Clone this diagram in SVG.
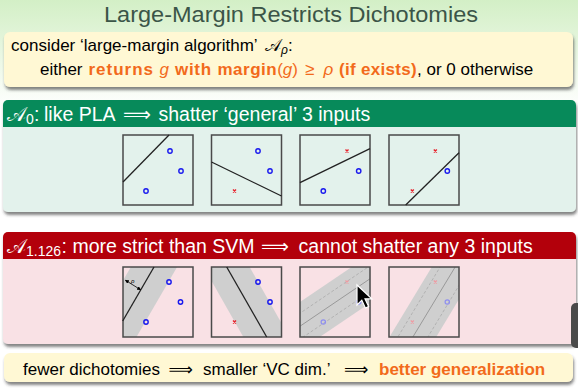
<svg xmlns="http://www.w3.org/2000/svg" width="578" height="389" viewBox="0 0 578 389">
<defs>
<linearGradient id="bg" x1="0" y1="0" x2="0" y2="1">
<stop offset="0" stop-color="#d3efc6"/>
<stop offset="0.28" stop-color="#ffffff"/>
<stop offset="1" stop-color="#ffffff"/>
</linearGradient>
<filter id="sh" x="-5%" y="-20%" width="110%" height="150%">
<feDropShadow dx="1" dy="3" stdDeviation="1.6" flood-color="#333" flood-opacity="0.6"/>
</filter>
<clipPath id="c1"><rect x="123" y="267" width="70" height="70"/></clipPath>
<clipPath id="c2"><rect x="211.5" y="267" width="70" height="70"/></clipPath>
<clipPath id="c3"><rect x="300" y="267" width="70" height="70"/></clipPath>
<clipPath id="c4"><rect x="389" y="267" width="70" height="70"/></clipPath>
<marker id="ah" viewBox="0 0 6 6" refX="5" refY="3" markerWidth="5" markerHeight="5" orient="auto-start-reverse">
<path d="M0,0 L6,3 L0,6 z" fill="#000"/>
</marker>
</defs>
<style>
text{font-family:"Liberation Sans","DejaVu Sans",sans-serif;}
.t{font-size:17px;fill:#000;}
.hd{font-size:19.5px;fill:#fff;}
.ob{fill:#f26a1b;font-weight:bold;}
.o{fill:#f26a1b;}
.oi{fill:#f26a1b;font-style:italic;}
.it{font-style:italic;}
.sq{fill:none;stroke:#4a4a4a;stroke-width:1.5;}
.ln{stroke:#222;stroke-width:1.3;fill:none;}
.ci{fill:none;stroke:#1a1aee;stroke-width:1.4;}
.xx{stroke:#e8202a;stroke-width:1.4;}
.band{stroke:#cfcfcf;stroke-width:40;fill:none;}
.fci{fill:none;stroke:#8f8ff0;stroke-width:1.2;}
.fxx{stroke:#f09aa2;stroke-width:1.2;}
.dl{stroke:#aaa;stroke-width:0.8;stroke-dasharray:3 2;fill:none;}
.fl{stroke:#999;stroke-width:1;fill:none;}
</style>
<rect x="0" y="0" width="578" height="389" fill="url(#bg)"/>

<g id="title">
<text x="104" y="22" font-size="22.5" fill="#3b5548" textLength="374" lengthAdjust="spacingAndGlyphs">Large-Margin Restricts Dichotomies</text>
</g>

<g id="box-def">
<rect x="4" y="32" width="569" height="55" rx="6" fill="#fff8d4" filter="url(#sh)"/>
<text class="t" y="51"><tspan x="11">consider ‘large-margin algorithm’</tspan><tspan x="265">𝒜</tspan><tspan font-size="12" dy="3" class="it">ρ</tspan><tspan dy="-3">:</tspan></text>
<text class="t" y="75"><tspan x="40">either</tspan><tspan x="88.5" class="ob" letter-spacing="1">returns</tspan><tspan x="159.5" class="oi">g</tspan><tspan x="175" class="ob" letter-spacing="0.7">with</tspan><tspan x="217.5" class="ob" letter-spacing="0.5">margin</tspan><tspan class="o">(</tspan><tspan class="oi">g</tspan><tspan class="o">)</tspan><tspan x="305" class="o">≥</tspan><tspan x="323.5" class="oi">ρ</tspan><tspan x="339" class="ob" letter-spacing="0.3">(if exists)</tspan><tspan x="417">, or 0 otherwise</tspan></text>
</g>

<g id="box-a0">
<rect x="3" y="100" width="573" height="112" rx="5" fill="#e3f2ec" filter="url(#sh)"/>
<path d="M3,127 V105 A5,5 0 0 1 8,100 H571 A5,5 0 0 1 576,105 V127 Z" fill="#078a5a"/>
<text class="hd" y="121"><tspan x="7">𝒜</tspan><tspan x="26" font-size="14" dy="3">0</tspan><tspan x="34" dy="-3">:</tspan><tspan x="44">like PLA</tspan><tspan x="123">⟹</tspan><tspan x="158.5">shatter ‘general’ 3 inputs</tspan></text>
</g>

<g id="a0-sq1">
<rect class="sq" x="123" y="135" width="70" height="70"/>
<line class="ln" x1="123" y1="182" x2="169" y2="135"/>
<circle class="ci" cx="170" cy="151" r="2.2"/>
<circle class="ci" cx="181" cy="171" r="2.2"/>
<circle class="ci" cx="146" cy="191" r="2.2"/>
</g>
<g id="a0-sq2">
<rect class="sq" x="211.5" y="135" width="70" height="70"/>
<line class="ln" x1="211.5" y1="162" x2="281.5" y2="196"/>
<circle class="ci" cx="258" cy="151" r="2.2"/>
<circle class="ci" cx="270" cy="171" r="2.2"/>
<path class="xx" d="M233,189.5 l3,3 M236,189.5 l-3,3"/>
</g>
<g id="a0-sq3">
<rect class="sq" x="300" y="135" width="70" height="70"/>
<line class="ln" x1="300" y1="182.7" x2="370" y2="148.7"/>
<path class="xx" d="M345.5,149.5 l3,3 M348.5,149.5 l-3,3"/>
<circle class="ci" cx="358.7" cy="171" r="2.2"/>
<circle class="ci" cx="323.3" cy="191" r="2.2"/>
</g>
<g id="a0-sq4">
<rect class="sq" x="389" y="135" width="70" height="70"/>
<line class="ln" x1="405.7" y1="205" x2="459" y2="152.7"/>
<path class="xx" d="M433.8,149.5 l3,3 M436.8,149.5 l-3,3"/>
<circle class="ci" cx="447.3" cy="171" r="2.2"/>
<path class="xx" d="M410.8,189.5 l3,3 M413.8,189.5 l-3,3"/>
</g>

<g id="box-a1">
<rect x="3" y="232" width="573" height="112" rx="5" fill="#f9e1e5" filter="url(#sh)"/>
<path d="M3,259 V237 A5,5 0 0 1 8,232 H571 A5,5 0 0 1 576,237 V259 Z" fill="#b3000b"/>
<text class="hd" y="253"><tspan x="7">𝒜</tspan><tspan x="26" font-size="14" dy="3">1.126</tspan><tspan x="61.5" dy="-3">:</tspan><tspan x="72.5">more strict than SVM</tspan><tspan x="261">⟹</tspan><tspan x="298.6">cannot shatter any 3 inputs</tspan></text>
</g>

<g id="a1-sq1">
<g clip-path="url(#c1)">
<line class="band" x1="100" y1="360" x2="165" y2="248"/>
</g>
<rect class="sq" x="123" y="267" width="70" height="70"/>
<line class="ln" x1="122.7" y1="321" x2="154" y2="267"/>
<line stroke="#000" stroke-width="0.8" x1="125.5" y1="280.3" x2="140.5" y2="289.7" marker-start="url(#ah)" marker-end="url(#ah)"/>
<text x="131" y="283" font-size="6" class="it">ρ</text>
<circle class="ci" cx="169" cy="282" r="2.2"/>
<circle class="ci" cx="180.5" cy="302" r="2.2"/>
<circle class="ci" cx="146" cy="322" r="2.2"/>
</g>
<g id="a1-sq2">
<g clip-path="url(#c2)">
<line class="band" x1="217" y1="250" x2="276" y2="354"/>
</g>
<rect class="sq" x="211.5" y="267" width="70" height="70"/>
<line class="ln" x1="226.7" y1="267" x2="266.7" y2="337"/>
<circle class="ci" cx="258" cy="282" r="2.2"/>
<circle class="ci" cx="270" cy="302" r="2.2"/>
<path class="xx" d="M233,320.5 l3,3 M236,320.5 l-3,3"/>
</g>
<g id="a1-sq3">
<g clip-path="url(#c3)">
<line class="band" x1="290" y1="333" x2="380" y2="272"/>
<line class="dl" x1="290" y1="320" x2="380" y2="259"/>
<line class="fl" x1="290" y1="333" x2="380" y2="272"/>
<line class="dl" x1="290" y1="346" x2="380" y2="285"/>
</g>
<rect class="sq" x="300" y="267" width="70" height="70"/>
<path class="fxx" d="M345.5,280.5 l3,3 M348.5,280.5 l-3,3"/>
<circle class="fci" cx="358.7" cy="302" r="2.2"/>
<circle class="fci" cx="323.3" cy="322" r="2.2"/>
</g>
<g id="a1-sq4">
<g clip-path="url(#c4)">
<line class="band" x1="405" y1="350" x2="463" y2="254"/>
<line class="dl" x1="393" y1="345" x2="451" y2="249"/>
<line class="fl" x1="405" y1="350" x2="463" y2="254"/>
<line class="dl" x1="417" y1="355" x2="475" y2="259"/>
</g>
<rect class="sq" x="389" y="267" width="70" height="70"/>
<path class="fxx" d="M433.8,280.5 l3,3 M436.8,280.5 l-3,3"/>
<circle class="fci" cx="447.3" cy="302" r="2.2"/>
<path class="fxx" d="M410.8,320.5 l3,3 M413.8,320.5 l-3,3"/>
</g>

<g id="cursor">
<path d="M357,285 L357,305 L361.8,300.2 L365.4,308 L368.6,306.5 L365,298.8 L371.8,298.8 Z" fill="#000" stroke="#fff" stroke-width="1.2"/>
</g>
<rect x="571" y="303" width="12" height="45" rx="5" fill="#4a4a4a"/>

<g id="box-concl">
<rect x="4" y="353" width="569" height="29" rx="6" fill="#fff8d4" filter="url(#sh)"/>
<text class="t" y="375" font-size="17.5"><tspan x="23">fewer dichotomies</tspan><tspan x="168.5">⟹</tspan><tspan x="203">smaller ‘VC dim.’</tspan><tspan x="344">⟹</tspan><tspan x="379" class="ob">better generalization</tspan></text>
</g>
</svg>
